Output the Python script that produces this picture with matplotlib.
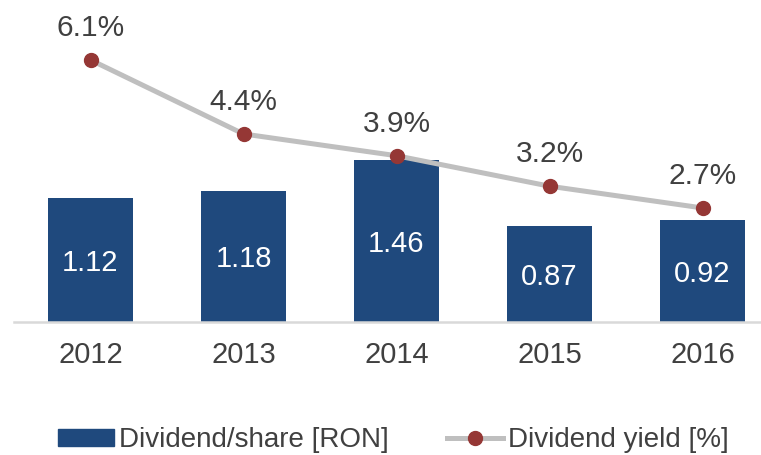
import matplotlib
matplotlib.use('Agg')
import matplotlib.pyplot as plt
from matplotlib.patches import Patch
from matplotlib.lines import Line2D

years = ['2012', '2013', '2014', '2015', '2016']
dividend = [1.12, 1.18, 1.46, 0.87, 0.92]
dividend_labels = ['1.12', '1.18', '1.46', '0.87', '0.92']
yield_pct = [6.1, 4.4, 3.9, 3.2, 2.7]
yield_labels = ['6.1%', '4.4%', '3.9%', '3.2%', '2.7%']

bar_color = '#1F497D'
line_color = '#BFBFBF'
marker_color = '#953735'
text_color = '#404040'

plt.rcParams['font.family'] = ['Liberation Sans', 'DejaVu Sans']

W, H = 761, 455
fig = plt.figure(figsize=(W / 100, H / 100), dpi=100)
# axes from x=14px to right edge, bottom at y=322px, top at y=0
ax = fig.add_axes([14 / W, (H - 322) / H, (W - 14) / W, 322 / H])

x = list(range(len(years)))
ax.bar(x, dividend, width=0.56, color=bar_color, zorder=2)
ax.set_xlim(-0.5, -0.5 + (W - 14) / 153)
ax.set_ylim(0, 322 / 110.7)

for xi, v, lab in zip(x, dividend, dividend_labels):
    ax.annotate(lab, (xi, v / 2), xytext=(0, -2), textcoords='offset points',
                ha='center', va='center', color='white', fontsize=21)

ax.set_xticks(x)
ax.set_xticklabels(years, fontsize=21, color=text_color)
ax.tick_params(axis='x', length=0, pad=14)
ax.set_yticks([])
for s in ['top', 'left', 'right']:
    ax.spines[s].set_visible(False)
ax.spines['bottom'].set_color('#D9D9D9')
ax.spines['bottom'].set_linewidth(1.8)

ax2 = ax.twinx()
ax2.plot(x, yield_pct, color=line_color, lw=3.6, marker='o', markersize=10,
         markerfacecolor=marker_color, markeredgecolor=marker_color, zorder=3)
ax2.set_ylim(0.08, 0.08 + 322 / 43.53)
ax2.set_yticks([])
for s in ['top', 'left', 'right', 'bottom']:
    ax2.spines[s].set_visible(False)

for xi, v, lab in zip(x, yield_pct, yield_labels):
    ax2.annotate(lab, (xi, v), xytext=(0, 23), textcoords='offset points',
                 ha='center', va='center', fontsize=21.5, color=text_color)

handles = [
    Patch(facecolor=bar_color, edgecolor=bar_color),
    Line2D([], [], color=line_color, lw=3.6, marker='o', markersize=10,
           markerfacecolor=marker_color, markeredgecolor=marker_color),
]
leg = fig.legend(handles, ['Dividend/share [RON]', 'Dividend yield [%]'],
                 loc='center', bbox_to_anchor=(0.5 + 13 / W, (H - 440) / H), ncol=2,
                 frameon=False, fontsize=20, handlelength=2.0, handleheight=0.55,
                 handletextpad=0.2, columnspacing=2.1, labelcolor=text_color)

fig.savefig('out.png', dpi=100)
